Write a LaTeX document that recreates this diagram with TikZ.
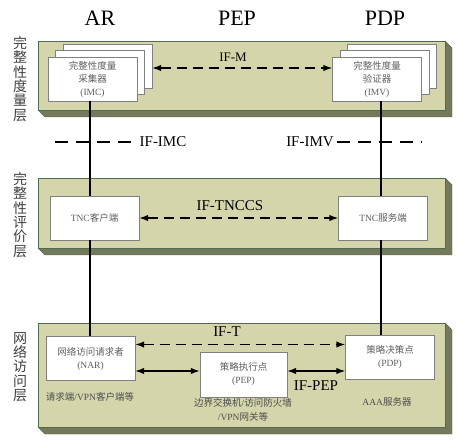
\documentclass[tikz,border=0pt]{standalone}
\usepackage{fontspec}
\setmainfont{Liberation Serif}
\newfontfamily\cjk{Noto Sans CJK SC}
\usepackage{tikz}
\usetikzlibrary{arrows.meta}

\definecolor{PanelFront}{RGB}{212,213,171}
\definecolor{PanelSide}{RGB}{116,121,92}
\definecolor{PanelEdge}{RGB}{78,108,78}
\definecolor{BoxText}{RGB}{95,95,95}

\begin{document}
\begin{tikzpicture}[x=1pt,y=-1pt,
  box/.style={draw=gray,fill=white,minimum width=89pt,minimum height=44pt,inner sep=1pt,align=center,text=BoxText,font=\fontsize{9.5}{13}\selectfont},
  layer/.style={text=black!75,align=center,font=\cjk\fontsize{14}{14.4}\selectfont},
  iface/.style={font=\fontsize{15}{15}\selectfont},
  note/.style={text=black!70,align=center,font=\fontsize{9.5}{14}\selectfont},
  dasharr/.style={{Latex[length=9pt,width=6.5pt]}-{Latex[length=9pt,width=6.5pt]},line width=1.4pt,dash pattern=on 10pt off 6pt},
  solarr/.style={{Latex[length=9pt,width=6.5pt]}-{Latex[length=9pt,width=6.5pt]},line width=1.4pt}]
\useasboundingbox (0,0) rectangle (466,446);

\foreach \ya/\yb in {41/110,178/248,323/427}
{\filldraw[fill=PanelSide,draw=PanelEdge] (445,\ya) -- (452,{\ya+7}) -- (452,{\yb+7}) -- (45,{\yb+7}) -- (38,\yb) -- (445,\yb) -- cycle;
 \filldraw[fill=PanelFront,draw=PanelEdge] (38,\ya) rectangle (445,\yb);}

\node[font=\fontsize{22}{22}\selectfont] (hdrAR) at (100,18) {AR};
\node[font=\fontsize{22}{22}\selectfont] (hdrPEP) at (237,18) {PEP};
\node[font=\fontsize{22}{22}\selectfont] (hdrPDP) at (385,18) {PDP};

\node[layer] (lyrM) at (20,79) {完\\整\\性\\度\\量\\层};
\node[layer] (lyrE) at (20,215) {完\\整\\性\\评\\价\\层};
\node[layer] (lyrN) at (20,367) {网\\络\\访\\问\\层};

\foreach \k in {2,1}
{\node[box] (imcb\k) at ({92.5+7.5*\k},{79-6.5*\k}) {};
 \node[box] (imvb\k) at ({377+7.5*\k},{79-6.5*\k}) {};}
\node[box] (imc) at (92.5,79) {{\cjk 完整性度量}\\{\cjk 采集器}\\(IMC)};
\node[box] (imv) at (377,79) {{\cjk 完整性度量}\\{\cjk 验证器}\\(IMV)};
\draw[dasharr] ([yshift=-2pt]imcb2.east) -- ([yshift=11pt]imv.west);
\node[font=\fontsize{13}{13}\selectfont] (ifm) at (233,57) {IF-M};

\node[box] (tncc) at (94.5,218) {TNC{\cjk 客户端}};
\node[box] (tncs) at (383,218) {TNC{\cjk 服务端}};
\draw[dasharr] (tncc.east) -- (tncs.west);
\node[iface] (iftnccs) at (230,206) {IF-TNCCS};

\node[box] (nar) at (90.5,358.5) {{\cjk 网络访问请求者}\\(NAR)};
\node[box,minimum width=87pt,minimum height=45pt] (pepb) at (243.5,374.5) {{\cjk 策略执行点}\\(PEP)};
\node[box] (pdpb) at (390,357.5) {{\cjk 策略决策点}\\(PDP)};
\coordinate (tL) at ([yshift=14pt]nar.east);
\coordinate (sL) at ([yshift=-12.5pt]nar.east);
\draw[dasharr] (tL) -- (tL -| pdpb.west);
\draw[solarr] (sL) -- (sL -| pepb.west);
\draw[solarr] (sL -| pepb.east) -- (sL -| pdpb.west);
\node[iface] (ift) at (227,332) {IF-T};
\node[iface] (ifpep) at (316,386) {IF-PEP};

\node[note] (narnote) at (90,397) {{\cjk 请求端}/VPN{\cjk 客户端等}};
\node[note] (pepnote) at (243,410) {{\cjk 边界交换机}/{\cjk 访问防火墙}\\/VPN{\cjk 网关等}};
\node[note] (pdpnote) at (387,402) {AAA{\cjk 服务器}};

\coordinate (colL) at (90,0);
\coordinate (colR) at (381,0);
\draw[line width=1.2pt] (colL |- imc.south) -- (colL |- tncc.north);
\draw[line width=1.2pt] (colL |- tncc.south) -- (colL |- nar.north);
\draw[line width=1.2pt] (colR |- imv.south) -- (colR |- tncs.north);
\draw[line width=1.2pt] (colR |- tncs.south) -- (colR |- pdpb.north);

\node[iface] (ifimc) at (163,142) {IF-IMC};
\node[iface] (ifimv) at (310,142) {IF-IMV};
\coordinate (imcEnd) at (55,142);
\coordinate (imvEnd) at (422,142);
\draw[line width=1.4pt,dash pattern=on 13pt off 8pt] (imcEnd) -- (ifimc.west);
\draw[line width=1.4pt,dash pattern=on 13pt off 8pt] (ifimv.east) -- (imvEnd);

\end{tikzpicture}
\end{document}
